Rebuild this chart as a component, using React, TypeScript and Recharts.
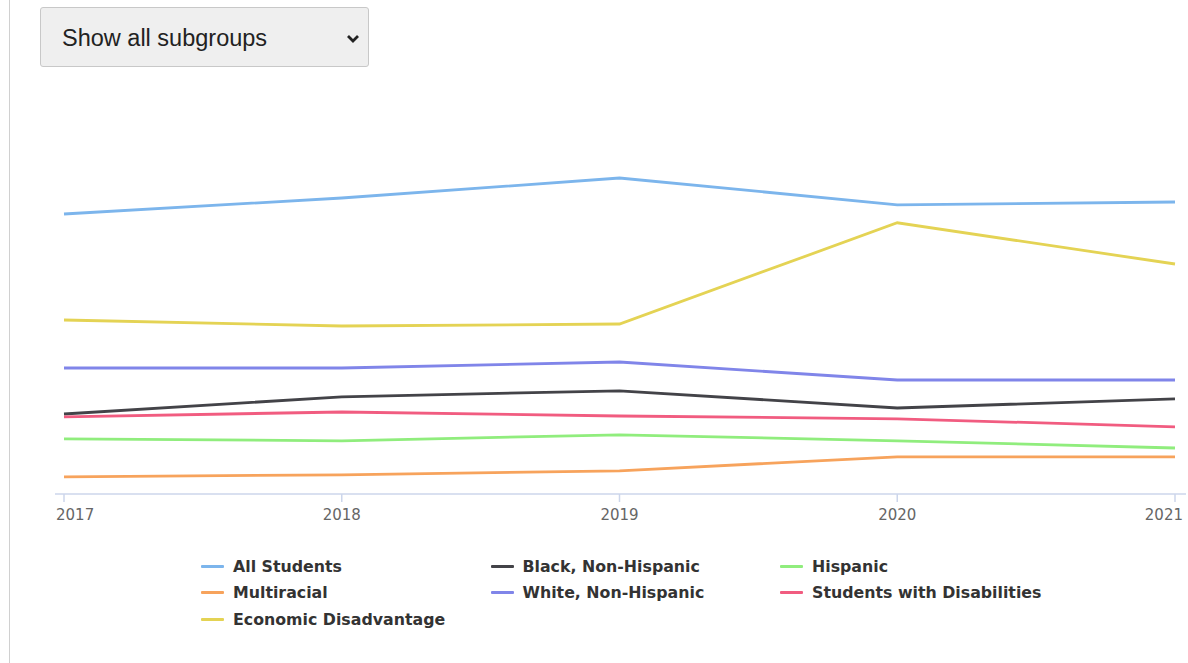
import { LineChart, Line, XAxis, YAxis } from 'recharts'

const years = ['2017', '2018', '2019', '2020', '2021']

const allStudents = [70, 74, 79, 72.3, 73]
const blackNonHispanic = [20, 24.3, 25.8, 21.5, 23.8]
const hispanic = [13.8, 13.3, 14.8, 13.3, 11.5]
const multiracial = [4.3, 4.8, 5.8, 9.3, 9.3]
const whiteNonHispanic = [31.5, 31.5, 33, 28.5, 28.5]
const studentsWithDisabilities = [19.3, 20.5, 19.5, 18.8, 16.8]
const economicDisadvantage = [43.5, 42, 42.5, 67.8, 57.5]

const series = [
  { key: 'all', name: 'All Students', values: allStudents, color: '#7cb5ec' },
  { key: 'black', name: 'Black, Non-Hispanic', values: blackNonHispanic, color: '#434348' },
  { key: 'hispanic', name: 'Hispanic', values: hispanic, color: '#90ed7d' },
  { key: 'multi', name: 'Multiracial', values: multiracial, color: '#f7a35c' },
  { key: 'white', name: 'White, Non-Hispanic', values: whiteNonHispanic, color: '#8085e9' },
  { key: 'swd', name: 'Students with Disabilities', values: studentsWithDisabilities, color: '#f15c80' },
  { key: 'econ', name: 'Economic Disadvantage', values: economicDisadvantage, color: '#e4d354' },
]

const data = years.map((year, i) => {
  const row: Record<string, string | number> = { year }
  series.forEach((s) => {
    row[s.key] = s.values[i]
  })
  return row
})

function YearTick(props: any) {
  const { x, y, payload, index } = props
  let anchor = 'middle'
  let dx = 0
  if (index === 0) {
    anchor = 'start'
    dx = -8
  } else if (index === years.length - 1) {
    anchor = 'end'
    dx = 8
  }
  return (
    <text
      x={x + dx}
      y={y}
      dy="0.71em"
      textAnchor={anchor}
      fill="#666666"
      fontSize={15}
      fontFamily="DejaVu Sans, sans-serif"
    >
      {payload.value}
    </text>
  )
}

export default function App() {
  return (
    <div
      style={{
        position: 'absolute',
        left: 0,
        top: 0,
        width: 1188,
        height: 663,
        background: '#fff',
        overflow: 'hidden',
      }}
    >
      <div
        style={{
          position: 'absolute',
          left: 9,
          top: 0,
          width: 1,
          height: 663,
          background: '#d0d0d0',
        }}
      />
      <div
        style={{
          position: 'absolute',
          left: 40,
          top: 7,
          width: 327,
          height: 58,
          background: '#efefef',
          border: '1px solid #c8c8c8',
          borderRadius: 3,
          fontFamily: 'Liberation Sans, Arial, sans-serif',
          fontSize: 23.5,
          color: '#222',
          display: 'flex',
          alignItems: 'center',
          boxSizing: 'content-box',
        }}
      >
        <span style={{ marginLeft: 21, marginTop: 2 }}>Show all subgroups</span>
        <svg
          width={14}
          height={9}
          viewBox="0 0 14 9"
          style={{ position: 'absolute', left: 305, top: 26 }}
        >
          <path d="M2 2 L7 7 L12 2" fill="none" stroke="#222" strokeWidth={2.8} />
        </svg>
      </div>

      <div style={{ position: 'absolute', left: 0, top: 0 }}>
        <LineChart
          width={1188}
          height={663}
          data={data}
          margin={{ top: 94, right: 2, bottom: 139, left: 55 }}
        >
          <XAxis
            dataKey="year"
            height={30}
            padding={{ left: 9, right: 11 }}
            axisLine={{ stroke: '#ccd6eb', strokeWidth: 1.5 }}
            tickLine={{ stroke: '#ccd6eb', strokeWidth: 1.5 }}
            tickSize={8}
            tickMargin={7}
            tick={<YearTick />}
            interval={0}
          />
          <YAxis hide domain={[0, 100]} />
          {series.map((s) => (
            <Line
              key={s.key}
              type="linear"
              dataKey={s.key}
              name={s.name}
              stroke={s.color}
              strokeWidth={2.8}
              dot={false}
              activeDot={false}
              isAnimationActive={false}
            />
          ))}
        </LineChart>
      </div>

      {series.map((s, i) => {
        const col = i % 3
        const row = Math.floor(i / 3)
        const left = 201 + col * 289.5
        const top = 566 + row * 26.5
        return (
          <div
            key={s.key}
            style={{
              position: 'absolute',
              left,
              top: top - 10,
              height: 20,
              display: 'flex',
              alignItems: 'center',
              whiteSpace: 'nowrap',
            }}
          >
            <div style={{ width: 23, height: 3, background: s.color, borderRadius: 1 }} />
            <span
              style={{
                marginLeft: 9,
                fontFamily: 'DejaVu Sans, sans-serif',
                fontWeight: 'bold',
                fontSize: 15.8,
                color: '#333333',
              }}
            >
              {s.name}
            </span>
          </div>
        )
      })}
    </div>
  )
}
